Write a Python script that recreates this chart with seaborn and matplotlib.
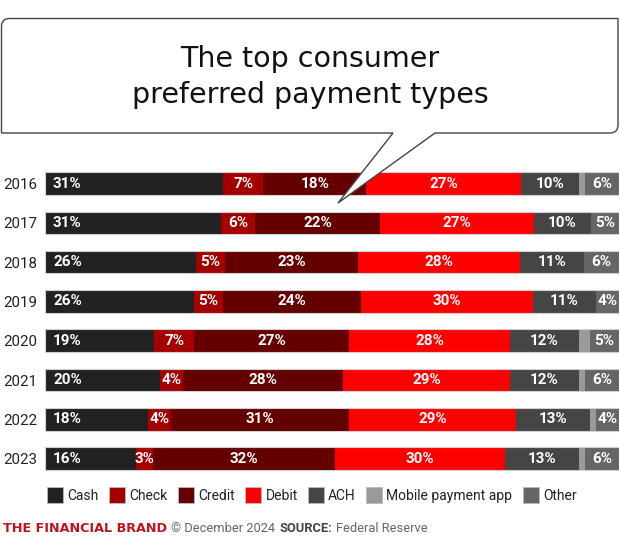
import numpy as np
import pandas as pd
import seaborn as sns
import matplotlib.pyplot as plt
from matplotlib.path import Path
from matplotlib.patches import PathPatch

years = ['2016', '2017', '2018', '2019', '2020', '2021', '2022', '2023']
cash = [31, 31, 26, 26, 19, 20, 18, 16]
check = [7, 6, 5, 5, 7, 4, 4, 3]
credit = [18, 22, 23, 24, 27, 28, 31, 32]
debit = [27, 27, 28, 30, 28, 29, 29, 30]
ach = [10, 10, 11, 11, 12, 12, 13, 13]
mobile = [1, 0, 0, 0, 2, 1, 1, 1]
other = [6, 5, 6, 4, 5, 6, 4, 6]

series = ['Cash', 'Check', 'Credit', 'Debit', 'ACH', 'Mobile payment app', 'Other']
colors = ['#222222', '#a50000', '#650000', '#ff0000', '#454545', '#9a9a9a', '#666666']

df = pd.DataFrame({'Cash': cash, 'Check': check, 'Credit': credit, 'Debit': debit,
                   'ACH': ach, 'Mobile payment app': mobile, 'Other': other}, index=years)

# scale every row to a full 100% bar
share = df.div(df.sum(axis=1), axis=0) * 100
cum = share.cumsum(axis=1)

sns.set_style('white')
plt.rcParams['font.family'] = ['Roboto', 'DejaVu Sans']

W, H = 620, 546
fig = plt.figure(figsize=(W / 100, H / 100), dpi=100)

# bars axes: x 45..619 px, rows centred 183.5 + 39.3*i
top_px, bot_px = 163.85, 478.25
ax = fig.add_axes([45 / W, 1 - bot_px / H, (619 - 45) / W, (bot_px - top_px) / H])

# stacked bars: draw cumulative totals from the longest down
for name, col in reversed(list(zip(series, colors))):
    sns.barplot(x=cum[name].values, y=years, color=col, saturation=1,
                orient='h', width=0.575, ax=ax, errorbar=None, linewidth=0)
sns.barplot(x=cum['Other'].values, y=years, color='#d0d0d0', fill=False,
            orient='h', width=0.575, ax=ax, errorbar=None, linewidth=0.8)

ax.set_xlim(0, 100)
ax.set_ylim(7.5, -0.5)
ax.set_xlabel('')
ax.set_ylabel('')
ax.set_xticks([])
ax.tick_params(axis='y', length=0, pad=5.5, labelsize=10.8, labelcolor='#222222')
for s in ax.spines.values():
    s.set_visible(False)

# value labels
for i, yr in enumerate(years):
    for name in series:
        if name == 'Mobile payment app':
            continue
        v = df.loc[yr, name]
        end = cum.loc[yr, name]
        start = end - share.loc[yr, name]
        if name == 'Cash':
            ax.text(start + 1.4, i, f'{v}%', ha='left', va='center', color='white',
                    fontsize=11, fontweight='bold')
        else:
            ax.text((start + end) / 2, i, f'{v}%', ha='center', va='center', color='white',
                    fontsize=11, fontweight='bold')

# overlay axes in pixel coordinates for the speech bubble
ov = fig.add_axes([0, 0, 1, 1], zorder=5)
ov.set_xlim(0, W)
ov.set_ylim(H, 0)
ov.axis('off')
ov.patch.set_alpha(0)

l, r, t, b, rad = 1.5, 618, 18.5, 133, 8
verts = [(l, t + rad), (l, t), (l + rad, t), (r, t), (r, b - rad), (r, b), (r - rad, b),
         (435, b), (338, 203), (393, b), (l, b), (l, t + rad)]
codes = [Path.MOVETO, Path.CURVE3, Path.CURVE3, Path.LINETO, Path.LINETO, Path.CURVE3,
         Path.CURVE3, Path.LINETO, Path.LINETO, Path.LINETO, Path.LINETO, Path.CLOSEPOLY]
ov.add_patch(PathPatch(Path(verts, codes), facecolor='white', edgecolor='#444444', lw=1))

ov.text(310, 67, 'The top consumer', ha='center', va='baseline', fontsize=20.5,
        color='#111111', family='DejaVu Sans')
ov.text(310, 103, 'preferred payment types', ha='center', va='baseline', fontsize=20.5,
        color='#111111', family='DejaVu Sans')

# legend
handles = [plt.Rectangle((0, 0), 1, 1, facecolor=c, edgecolor='#bbbbbb', lw=0.6) for c in colors]
fig.legend(handles, series, loc='center', bbox_to_anchor=(312 / W, 1 - 495 / H), ncol=7,
           frameon=False, fontsize=10, handlelength=1.15, handleheight=1.3,
           handletextpad=0.3, columnspacing=0.75, labelcolor='#222222')

# footer
t1 = ov.text(3, 532, 'THE FINANCIAL BRAND', ha='left', va='baseline', fontsize=9.2,
             fontweight='bold', color='#c0141c', family='DejaVu Sans')
t2 = ov.annotate('\u00a9 December 2024', xy=(1, 0), xycoords=t1, xytext=(3, 0),
                 textcoords='offset points', va='bottom', ha='left', fontsize=9.3, color='#666666')
t3 = ov.annotate('SOURCE:', xy=(1, 0), xycoords=t2, xytext=(3, 0),
                 textcoords='offset points', va='bottom', ha='left', fontsize=9.3,
                 fontweight='bold', color='#444444')
ov.annotate('Federal Reserve', xy=(1, 0), xycoords=t3, xytext=(3, 0),
            textcoords='offset points', va='bottom', ha='left', fontsize=9.3, color='#666666')

fig.savefig('out.png', dpi=100)
